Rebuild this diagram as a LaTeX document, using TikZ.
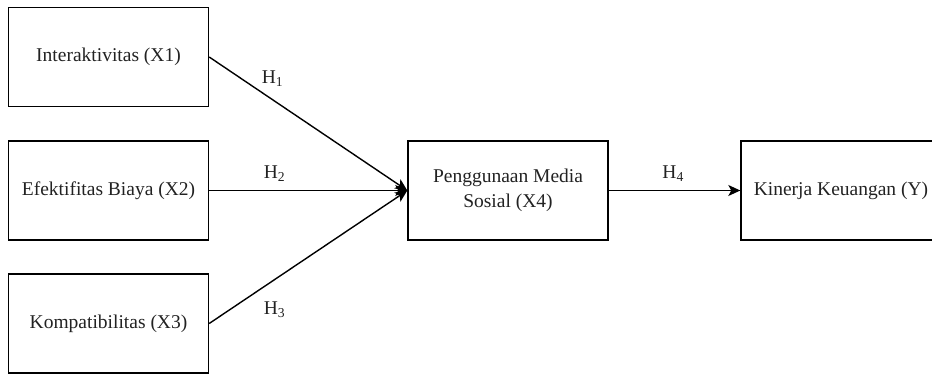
\documentclass[tikz,border=0pt]{standalone}
\usepackage{fontspec}
\setmainfont{Liberation Serif}
\usetikzlibrary{arrows.meta}
\definecolor{txt}{HTML}{222222}
\begin{document}
\begin{tikzpicture}[x=1pt,y=-1pt,
  box/.style={draw=black,line width=1.4pt,minimum width=200pt,minimum height=99pt,inner sep=0pt,align=center,text=txt,font=\fontsize{19.5}{25}\selectfont},
  conn/.style={line width=1.4pt,-{Stealth[length=12pt,width=11pt,inset=3pt]}},
  hlab/.style={text=txt,font=\fontsize{19.5}{23}\selectfont,inner sep=0pt}]
\useasboundingbox (0,0) rectangle (932,374);
\clip (0,0) rectangle (932,374);
\node[box] (x1) at (108.5,57) {Interaktivitas (X1)};
\node[box] (x2) at (108.5,190.5) {Efektifitas Biaya (X2)};
\node[box] (x3) at (108.5,323.5) {Kompatibilitas (X3)};
\node[box] (x4) at (508,190.5) {Penggunaan Media\\Sosial (X4)};
\node[box] (y) at (841,190.5) {Kinerja Keuangan (Y)};
\draw[conn] (x1.east) -- node[hlab,pos=0.32,yshift=21pt] (h1) {H\textsubscript{1}} (x4.west);
\draw[conn] (x2.east) -- node[hlab,pos=0.33,yshift=17pt] (h2) {H\textsubscript{2}} (x4.west);
\draw[conn] (x3.east) -- node[hlab,pos=0.33,yshift=-30pt] (h3) {H\textsubscript{3}} (x4.west);
\draw[conn] (x4.east) -- node[hlab,pos=0.49,yshift=17pt] (h4) {H\textsubscript{4}} (y.west);
\end{tikzpicture}
\end{document}
